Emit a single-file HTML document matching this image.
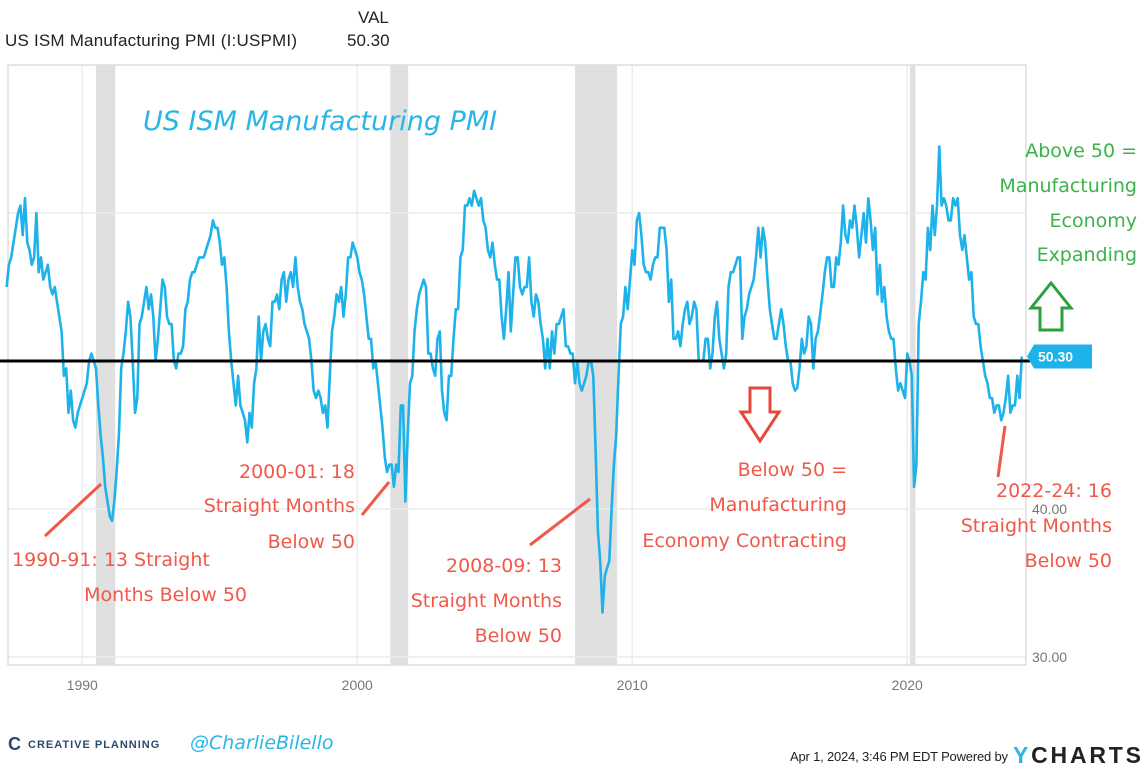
<!DOCTYPE html>
<html><head><meta charset="utf-8"><style>
body{margin:0;background:#fff;width:1146px;height:767px;overflow:hidden;font-family:"Liberation Sans",sans-serif}
.hand{font-family:"DejaVu Sans","Liberation Sans",sans-serif}
</style></head><body>
<svg width="1146" height="767" xmlns="http://www.w3.org/2000/svg">
<text x="358" y="23" font-size="17" fill="#222">VAL</text>
<text x="5" y="46" font-size="17" fill="#222" textLength="292">US ISM Manufacturing PMI (I:USPMI)</text>
<text x="347" y="46" font-size="17" fill="#222">50.30</text>
<g id="bands"></g>
<g id="grid"></g>
<rect x="8" y="65" width="1018" height="600" fill="none" stroke="#ddd" stroke-width="1.5"/>
<g id="ylabels"></g><g id="xlabels"></g>
<path id="line" fill="none" stroke="#1eb2ea" stroke-width="2.6" stroke-linejoin="round"/>
<line id="fifty" x1="0" x2="1030" stroke="#000" stroke-width="3"/>
<g id="tag"></g>
<text x="143" y="130" font-size="27" fill="#29b6e6" class="hand" font-style="italic">US ISM Manufacturing PMI</text>
<g class="hand" font-size="19" fill="#3db24a" text-anchor="end">
<text x="1137" y="157">Above 50 =</text><text x="1137" y="192">Manufacturing</text><text x="1137" y="227">Economy</text><text x="1137" y="261">Expanding</text></g>
<path d="M1040,330 L1040,308 L1031,308 L1051,283 L1071,308 L1062,308 L1062,330 Z" fill="none" stroke="#2aa23a" stroke-width="3"/>
<path d="M750,388 L750,412 L741,412 L760,441 L779,412 L770,412 L770,388 Z" fill="none" stroke="#e8483c" stroke-width="3"/>
<g class="hand" font-size="19" fill="#f0584a">
<text x="847" y="476" text-anchor="end">Below 50 =</text><text x="847" y="511" text-anchor="end">Manufacturing</text><text x="847" y="547" text-anchor="end">Economy Contracting</text>
<text x="12" y="566">1990-91: 13 Straight</text><text x="247" y="601" text-anchor="end">Months Below 50</text>
<text x="355" y="478" text-anchor="end">2000-01: 18</text><text x="355" y="512" text-anchor="end">Straight Months</text><text x="355" y="548" text-anchor="end">Below 50</text>
<text x="562" y="572" text-anchor="end">2008-09: 13</text><text x="562" y="607" text-anchor="end">Straight Months</text><text x="562" y="642" text-anchor="end">Below 50</text>
<text x="1112" y="497" text-anchor="end">2022-24: 16</text><text x="1112" y="532" text-anchor="end">Straight Months</text><text x="1112" y="567" text-anchor="end">Below 50</text>
</g>
<g stroke="#f0584a" stroke-width="3">
<line x1="45" y1="536" x2="101" y2="484"/><line x1="362" y1="515" x2="389" y2="482"/><line x1="530" y1="545" x2="590" y2="499"/><line x1="998" y1="477" x2="1005" y2="426"/></g>
<text x="8" y="750" font-size="18" fill="#2b4b6e" font-weight="bold">C</text>
<text x="28" y="748" font-size="11" fill="#2b4b6e" font-weight="bold" letter-spacing="1">CREATIVE PLANNING</text>
<text x="190" y="749" font-size="19" fill="#29b6e6" font-style="italic" class="hand">@CharlieBilello</text>
<text x="790" y="761" font-size="13" fill="#222" textLength="218">Apr 1, 2024, 3:46 PM EDT Powered by</text>
<text x="1013" y="763" font-size="23" font-weight="bold" fill="#222" textLength="128"><tspan fill="#29b6e6">Y</tspan>CHARTS</text>
</svg>
<script>
const startYear = 1987.25;
const pmiValues = [
55.0,56.5,57.0,58.0,59.0,60.0,60.5,58.5,61.0,
58.0,57.5,56.5,57.0,60.0,56.0,57.0,55.5,56.0,56.5,55.0,54.5,
55.0,54.0,53.0,52.0,49.0,49.5,46.5,48.0,46.0,45.5,46.5,47.0,
47.5,48.0,48.5,50.0,50.5,50.0,49.5,47.0,45.0,43.5,41.5,40.5,
39.5,39.2,40.5,42.5,45.0,49.5,50.5,52.0,54.0,53.0,50.0,46.5,
47.5,52.5,53.0,54.0,55.0,53.5,54.5,53.0,50.0,51.5,53.5,55.5,
55.0,53.0,52.5,52.5,50.0,49.5,50.5,50.5,51.0,53.5,54.0,55.5,
56.0,56.0,56.5,57.0,57.0,57.0,57.5,58.0,58.5,59.5,59.0,59.0,
58.0,56.5,57.0,55.0,52.0,50.0,48.5,47.0,49.0,47.0,46.5,46.0,
44.5,46.5,45.5,48.5,49.5,53.0,50.0,52.0,52.5,51.5,51.0,54.0,
54.0,54.5,53.5,55.5,56.0,54.0,55.5,56.0,55.0,57.0,55.0,54.0,
53.5,52.5,52.0,51.5,50.0,48.0,47.5,48.0,47.5,46.5,47.0,45.5,
49.0,52.0,53.0,54.5,54.0,55.0,53.0,54.5,57.0,57.0,58.0,57.5,
57.0,56.0,55.5,54.5,53.0,51.5,51.5,49.5,50.0,48.5,47.0,45.5,
43.5,42.5,43.0,43.0,41.5,43.0,42.5,47.0,47.0,40.5,45.0,48.5,
49.0,52.0,53.5,54.5,55.0,55.5,55.0,50.5,50.5,49.5,49.0,51.5,
52.0,48.0,46.5,46.0,49.0,49.0,51.5,53.5,53.5,57.0,57.5,60.5,
60.5,61.0,60.5,61.5,61.0,60.5,61.0,59.5,59.0,57.5,57.0,58.0,
56.5,55.5,55.5,53.0,51.5,53.5,56.0,52.0,54.5,57.0,57.0,55.0,
54.5,55.0,55.0,57.0,54.0,53.0,54.5,54.0,52.5,51.5,49.5,51.5,
49.5,52.0,50.5,52.5,52.5,53.0,53.5,51.0,51.0,50.5,50.5,48.5,
50.0,48.5,48.0,48.5,49.0,50.0,50.0,49.0,44.0,38.5,36.5,33.0,
35.5,36.0,36.5,40.0,43.0,45.0,49.0,52.5,53.0,55.0,53.5,55.5,
57.5,56.5,59.5,60.0,58.5,56.5,56.0,56.0,55.5,56.5,57.0,57.0,
59.0,59.0,59.0,57.5,54.0,55.5,51.5,51.5,52.0,51.0,52.5,53.5,
54.0,52.5,53.0,54.0,53.5,50.0,50.0,50.0,51.5,51.5,49.5,50.5,
53.0,54.0,51.5,50.5,49.5,50.5,55.0,56.0,56.0,56.5,57.0,57.0,
51.5,53.0,53.5,54.5,55.0,55.5,57.0,59.0,57.0,59.0,58.0,55.5,
53.5,52.5,51.5,51.5,52.5,53.5,52.5,51.0,50.0,50.0,48.5,48.0,
48.2,49.5,51.5,50.5,51.0,53.0,52.5,49.5,51.5,52.0,53.2,54.5,
56.0,57.0,57.0,55.0,55.0,57.0,56.5,58.0,60.5,58.5,58.0,59.5,
59.0,60.5,59.0,57.0,58.5,60.0,58.0,61.0,59.5,57.5,59.0,54.5,
56.5,54.0,55.0,53.0,52.0,51.5,51.5,49.5,48.0,48.5,48.0,47.5,
50.5,50.0,49.0,41.5,43.0,52.5,54.0,56.0,55.5,59.0,57.5,60.5,
58.5,60.5,64.5,60.5,61.0,60.5,59.5,59.5,61.0,60.5,61.0,58.5,
57.5,58.5,57.0,55.5,56.0,53.0,52.5,52.5,51.0,50.0,49.0,48.5,
47.5,47.5,46.5,47.0,47.0,46.0,46.5,47.5,49.0,46.5,47.0,47.0,
49.0,47.5,50.3];
const yTicks = [30, 40, 50, 60];
const yTickLabels = ["30.00", "40.00", "", ""];
const xTicks = [1990, 2000, 2010, 2020];
const recessionStarts = [1990.5, 2001.2, 2007.92, 2020.1];
const recessionEnds = [1991.2, 2001.85, 2009.45, 2020.3];
const threshold = 50;

const sx = yr => 8 + (yr - 1987.3) * 27.5;
const sy = v => 361 - (v - 50) * 14.8;
const NS = "http://www.w3.org/2000/svg";
function mk(tag, attrs, parent){const e=document.createElementNS(NS,tag);for(const k in attrs)e.setAttribute(k,attrs[k]);parent.appendChild(e);return e;}

const bands = document.getElementById('bands');
recessionStarts.forEach((s,i)=>{
  const r = mk('rect',{x:sx(s),y:65,width:sx(recessionEnds[i])-sx(s),height:600,fill:'#e0e0e0'},bands);
  
  
});
const grid = document.getElementById('grid');
yTicks.forEach(v=>{
  const l = mk('line',{x1:8,x2:1026,y1:sy(v),y2:sy(v),stroke:'#ececec','stroke-width':1.5},grid);
  
  
});
xTicks.forEach(y=>{
  const l = mk('line',{x1:sx(y),x2:sx(y),y1:65,y2:665,stroke:'#ececec','stroke-width':1.5},grid);
  
  
});
const yl = document.getElementById('ylabels');
yTicks.forEach((v,i)=>{
  if(!yTickLabels[i]) return;
  const t = mk('text',{x:1032,y:sy(v)+5,'font-size':14,fill:'#777'},yl);
  t.textContent = yTickLabels[i];
  
  
});
const xl = document.getElementById('xlabels');
xTicks.forEach(y=>{
  const t = mk('text',{x:sx(y),y:690,'font-size':14,fill:'#777','text-anchor':'middle'},xl);
  t.textContent = y;
  
  
});
let d='';
pmiValues.forEach((v,i)=>{d += (i?'L':'M') + sx(startYear + i/12).toFixed(1) + ',' + sy(v).toFixed(1);});
document.getElementById('line').setAttribute('d', d);
const f = document.getElementById('fifty');
f.setAttribute('y1', sy(threshold)); f.setAttribute('y2', sy(threshold));
const last = pmiValues[pmiValues.length-1];
const tag = document.getElementById('tag');
const ty = sy(last);
mk('path',{d:`M1027,${ty} L1034,${ty-12} L1092,${ty-12} L1092,${ty+12} L1034,${ty+12} Z`,fill:'#1eb2ea'},tag);
const tt = mk('text',{x:1038,y:ty+5,'font-size':14,'font-weight':'bold',fill:'#fff'},tag);
tt.textContent = last.toFixed(2);
</script>
</body></html>
